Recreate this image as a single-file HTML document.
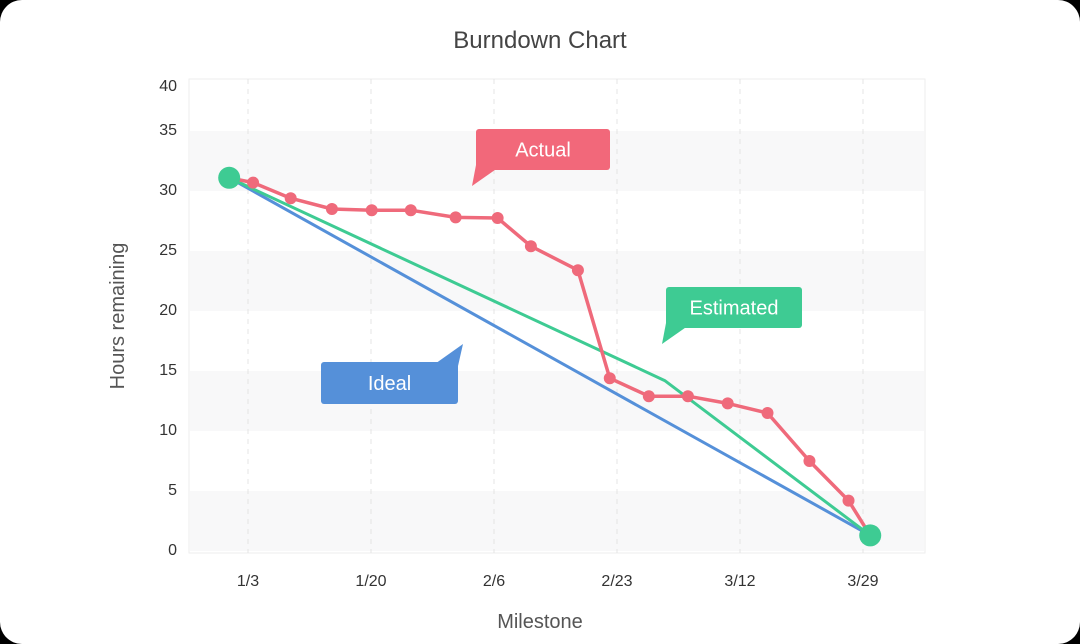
<!DOCTYPE html>
<html><head><meta charset="utf-8"><style>
html,body{margin:0;padding:0;background:#000;}
#card{position:absolute;left:0;top:0;width:1080px;height:644px;background:#fff;border-radius:22px;overflow:hidden;}
svg{position:absolute;left:0;top:0;}
text{font-family:"Liberation Sans",sans-serif;}
</style></head><body>
<div id="card">
<svg id="chart" width="1080" height="644"></svg>
</div>
<script>
const xTickLabels=["1/3","1/20","2/6","2/23","3/12","3/29"];
const xTickDays=[0,17,34,51,68,85];
const yTicks=[0,5,10,15,20,25,30,35,40];
const actualDays=[-2.6,0.7,5.9,11.6,17.1,22.5,28.7,34.5,39.1,45.6,50,55.4,60.8,66.3,71.8,77.6,83,86];
const actualHours=[31.1,30.7,29.4,28.5,28.4,28.4,27.8,27.75,25.4,23.4,14.4,12.9,12.9,12.3,11.5,7.5,4.2,1.3];
const estDays=[-2.6,57.6,86];
const estHours=[31.1,14.2,1.3];
const idealDays=[-2.6,86];
const idealHours=[31.1,1.3];
const NS="http://www.w3.org/2000/svg";
const svg=document.getElementById('chart');
const L=189,R=925,T=79,B=553;
const xs=d=>248+d*(123/17);
const ys=v=>551-v*12;
function el(tag,attrs,parent){const e=document.createElementNS(NS,tag);for(const k in attrs)e.setAttribute(k,attrs[k]);(parent||svg).appendChild(e);return e;}
let bg=el('rect',{x:L,y:T,width:R-L,height:B-T,fill:'#fff',stroke:'#eeeeee'});


for(let i=0;i<yTicks.length-1;i+=2){
  const y0=ys(yTicks[i]),y1=ys(yTicks[i+1]);
  const b=el('rect',{x:L+1,y:Math.max(y1,T),width:R-L-2,height:Math.min(y0,B-1)-Math.max(y1,T),fill:'#f8f8f9'});
  
  
}
yTicks.forEach(v=>{
  const t=el('text',{x:177,y:Math.max(ys(v)+4,91),'text-anchor':'end','font-size':'16',fill:'#333'});
  t.textContent=v;
  
  
});
xTickDays.forEach((d,i)=>{
  const g=el('line',{x1:xs(d),x2:xs(d),y1:T,y2:B,stroke:'#e4e4e4','stroke-dasharray':'5,5'});
  
  
  const t=el('text',{x:xs(d),y:586,'text-anchor':'middle','font-size':'16',fill:'#333'});
  t.textContent=xTickLabels[i];
  
  
});
function line(days,vals,color,name,w){
  const p=el('polyline',{points:days.map((d,i)=>xs(d)+','+ys(vals[i])).join(' '),fill:'none',stroke:color,'stroke-width':w,'stroke-linejoin':'round'});
  
  
}
line(idealDays,idealHours,'#5590d9','ideal-line',3);
line(estDays,estHours,'#3ecb93','estimated-line',3);
line(actualDays,actualHours,'#ef6a7b','actual-line',3.5);
actualDays.forEach((d,i)=>{
  if(i===0||i===actualDays.length-1)return;
  const c=el('circle',{cx:xs(d),cy:ys(actualHours[i]),r:6,fill:'#ef6a7b'});
  
  
});
[0,actualDays.length-1].forEach(i=>{
  const c=el('circle',{cx:xs(actualDays[i]),cy:ys(actualHours[i]),r:11,fill:'#3ecb93'});
  
  
});
function callout(x,y,w,h,color,label,tail,name){
  const g=el('g',{});
  
  
  el('rect',{x:x,y:y,width:w,height:h,rx:3,fill:color},g);
  el('polygon',{points:tail,fill:color},g);
  const t=el('text',{x:x+w/2,y:y+h/2+7,'text-anchor':'middle','font-size':'20',fill:'#fff'},g);
  t.textContent=label;
}
callout(476,129,134,41,'#f2687a','Actual','476,165 502,165 472,186','actual-callout');
callout(666,287,136,41,'#3ecb93','Estimated','666,323 692,323 662,344','estimated-callout');
callout(321,362,137,42,'#5590d9','Ideal','432,366 458,366 463,344','ideal-callout');
let t=el('text',{x:540,y:48,'text-anchor':'middle','font-size':'24',fill:'#444'});t.textContent='Burndown Chart';


t=el('text',{x:540,y:628,'text-anchor':'middle','font-size':'20',fill:'#555'});t.textContent='Milestone';


t=el('text',{x:124,y:316,'text-anchor':'middle','font-size':'20',fill:'#555',transform:'rotate(-90 124 316)'});t.textContent='Hours remaining';


</script>
</body></html>
